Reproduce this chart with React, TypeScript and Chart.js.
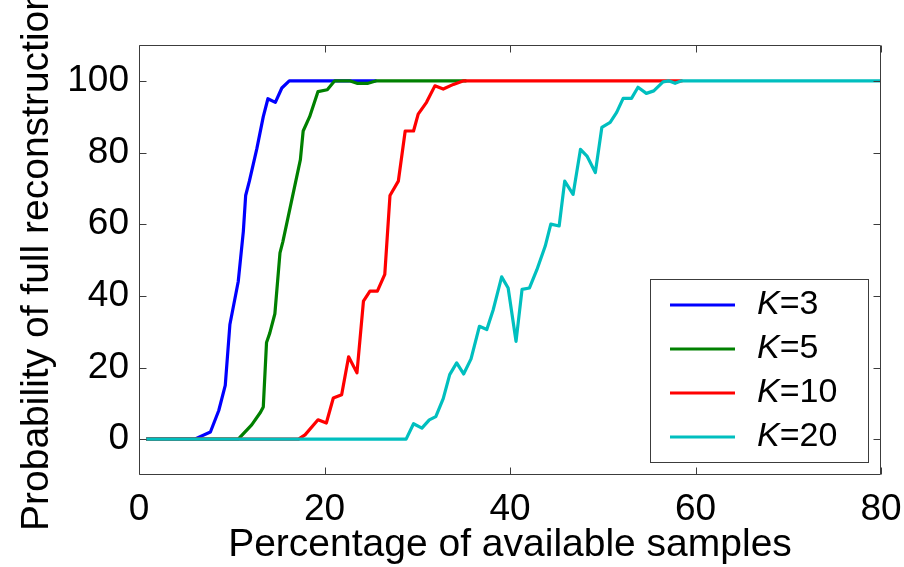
import { useEffect, useRef } from "react";
import { Chart, registerables } from "chart.js";

Chart.register(...registerables);

const xTicks = [0, 20, 40, 60, 80];
const yTicks = [0, 20, 40, 60, 80, 100];
const xTitle = "Percentage of available samples";
const yTitle = "Probability of full reconstruction";

const seriesK = ["3", "5", "10", "20"];
const seriesColors = ["#0000ff", "#008000", "#ff0000", "#00bfbf"];

const k3X = [0.78, 6.0, 7.7, 8.6, 9.3, 9.8, 10.7, 11.25, 11.5, 11.9, 12.7, 13.4, 13.9, 14.7, 15.4, 16.2, 25.6];
const k3Y = [0, 0, 2, 8, 15, 32, 44, 58, 68, 72, 81, 90, 95, 94, 98, 100, 100];

const k5X = [0.78, 10.7, 12.15, 13.1, 13.4, 13.75, 14.1, 14.65, 15.2, 15.5, 17.4, 17.7, 18.4, 19.3, 20.3, 21.1, 22.7, 23.5, 24.7, 25.6, 35.3];
const k5Y = [0, 0, 4, 7.5, 9, 27, 29.6, 35, 52, 55, 78, 86, 90, 97, 97.5, 100, 100, 99.3, 99.3, 100, 100];

const k10X = [0.78, 17.2, 17.9, 19.3, 20.2, 20.95, 21.85, 22.6, 23.5, 24.2, 24.9, 25.7, 26.5, 27.06, 27.96, 28.7, 29.6, 30.1, 31.0, 31.9, 32.8, 33.9, 35.0, 58.6];
const k10Y = [0, 0, 1.2, 5.4, 4.5, 11.5, 12.4, 23, 18.5, 38.5, 41.3, 41.3, 46, 68, 72, 86, 86, 90.7, 94, 98.6, 97.7, 99, 100, 100];

const k20X = [0.78, 28.8, 29.6, 30.5, 31.3, 32.0, 32.8, 33.5, 34.25, 35.0, 35.8, 36.7, 37.5, 38.2, 39.1, 39.8, 40.65, 41.3, 42.1, 42.9, 43.8, 44.4, 45.3, 45.9, 46.8, 47.6, 48.3, 49.2, 49.9, 50.8, 51.5, 52.2, 53.1, 53.8, 54.7, 55.5, 56.5, 57.1, 57.8, 58.5, 80];
const k20Y = [0, 0, 4.3, 3.1, 5.4, 6.3, 11.3, 18, 21.3, 18.2, 22.4, 31.5, 30.6, 36.2, 45.3, 42.2, 27.3, 41.8, 42.2, 47.3, 53.9, 60, 59.5, 72, 68.3, 80.9, 79, 74.4, 87, 88.4, 91.2, 95.1, 95.1, 98.2, 96.5, 97.2, 99.7, 100, 99.3, 100, 100];

const seriesX = [k3X, k5X, k10X, k20X];
const seriesY = [k3Y, k5Y, k10Y, k20Y];

const FONT = "'Liberation Sans', Arial, Helvetica, sans-serif";

export default function App() {
  const ref = useRef<HTMLCanvasElement | null>(null);

  useEffect(() => {
    const frameColor = "#3c3c3c";
    const boxPlugin = {
      id: "matlabBox",
      afterDraw(chart: any) {
        const { ctx, chartArea: a, scales } = chart;
        const L = Math.round(a.left) + 0.5;
        const R = Math.round(a.right) - 0.5;
        const T = Math.round(a.top) + 0.5;
        const B = Math.round(a.bottom) - 0.5;
        ctx.save();
        ctx.strokeStyle = frameColor;
        ctx.lineWidth = 1;
        ctx.beginPath();
        ctx.rect(L, T, R - L, B - T);
        const tl = 7;
        xTicks.forEach((v) => {
          const px = Math.round(scales.x.getPixelForValue(v)) + 0.5;
          ctx.moveTo(px, B);
          ctx.lineTo(px, B - tl);
          ctx.moveTo(px, T);
          ctx.lineTo(px, T + tl);
        });
        yTicks.forEach((v) => {
          const py = Math.round(scales.y.getPixelForValue(v)) + 0.5;
          ctx.moveTo(L, py);
          ctx.lineTo(L + tl, py);
          ctx.moveTo(R, py);
          ctx.lineTo(R - tl, py);
        });
        ctx.stroke();

        // legend
        const lx = 650.5, ly = 279.5, lw = 218, lh = 183;
        ctx.fillStyle = "#ffffff";
        ctx.fillRect(lx, ly, lw, lh);
        ctx.strokeStyle = frameColor;
        ctx.strokeRect(lx, ly, lw, lh);
        const rows = [305, 349, 393, 437];
        seriesK.forEach((k, i) => {
          const y = rows[i];
          ctx.strokeStyle = seriesColors[i];
          ctx.lineWidth = 3;
          ctx.beginPath();
          ctx.moveTo(670, y);
          ctx.lineTo(735, y);
          ctx.stroke();
          ctx.fillStyle = "#000";
          ctx.textBaseline = "middle";
          ctx.textAlign = "left";
          ctx.font = `italic 34px ${FONT}`;
          ctx.fillText("K", 757, y);
          const w = ctx.measureText("K").width;
          ctx.font = `34px ${FONT}`;
          ctx.fillText("=" + k, 757 + w, y);
        });
        ctx.restore();
      },
    };

    const orders = [4, 3, 2, 1];
    const chart = new Chart(ref.current as HTMLCanvasElement, {
      type: "line",
      data: {
        datasets: seriesK.map((k, i) => ({
          label: "K=" + k,
          data: seriesX[i].map((x, j) => ({ x, y: seriesY[i][j] })),
          borderColor: seriesColors[i],
          backgroundColor: seriesColors[i],
          borderWidth: 3.2,
          pointRadius: 0,
          tension: 0,
          fill: false,
          order: orders[i],
          borderJoinStyle: "round" as const,
        })),
      },
      options: {
        animation: false,
        responsive: true,
        maintainAspectRatio: false,
        layout: { padding: { top: 45, right: 23, left: 0, bottom: 0 } },
        plugins: { legend: { display: false }, tooltip: { enabled: false } },
        scales: {
          x: {
            type: "linear",
            min: 0,
            max: 80,
            afterFit: (s: any) => {
              s.height = 92;
              s.paddingLeft = 0;
              s.paddingRight = 0;
            },
            afterBuildTicks: (s: any) => {
              s.ticks = xTicks.map((v) => ({ value: v }));
            },
            grid: { display: false, drawTicks: false },
            border: { display: false },
            ticks: {
              padding: 13,
              color: "#000",
              maxRotation: 0,
              autoSkip: false,
              font: { family: FONT, size: 37 },
            },
            title: {
              display: true,
              text: xTitle,
              color: "#000",
              font: { family: FONT, size: 39, lineHeight: 1 },
              padding: { top: 0, bottom: 2 },
            },
          },
          y: {
            type: "linear",
            min: -10,
            max: 110,
            afterFit: (s: any) => {
              s.width = 139;
              s.paddingTop = 0;
              s.paddingBottom = 0;
            },
            afterBuildTicks: (s: any) => {
              s.ticks = yTicks.map((v) => ({ value: v }));
            },
            grid: { display: false, drawTicks: false },
            border: { display: false },
            ticks: {
              padding: 10,
              color: "#000",
              autoSkip: false,
              font: { family: FONT, size: 37 },
            },
            title: {
              display: true,
              text: yTitle,
              color: "#000",
              font: { family: FONT, size: 39, lineHeight: 1 },
              padding: { top: 18, bottom: 0 },
            },
          },
        },
      },
      plugins: [boxPlugin],
    });
    return () => chart.destroy();
  }, []);

  return (
    <div style={{ position: "fixed", left: 0, top: 0, width: 904, height: 567, background: "#fff" }}>
      <canvas ref={ref} />
    </div>
  );
}
